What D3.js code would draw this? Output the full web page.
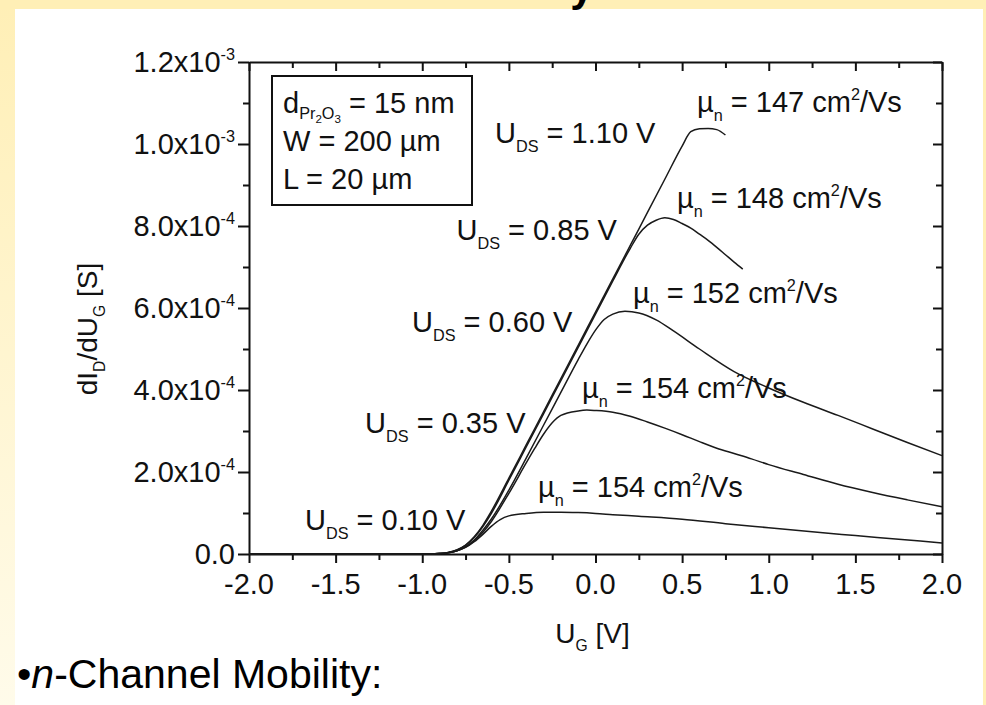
<!DOCTYPE html>
<html>
<head>
<meta charset="utf-8">
<script src="https://cdn.jsdelivr.net/npm/d3@7/dist/d3.min.js"></script>
<style>
  html, body { margin: 0; padding: 0; background: #fff; }
  svg { display: block; font-family: "Liberation Sans", Arial, Helvetica, sans-serif; }
</style>
</head>
<body>
<svg id="chart" width="986" height="705"></svg>
<script>
// Transconductance dI_D/dU_G (in 1e-4 S) versus gate voltage U_G (V), one curve per drain bias.
const ug010 = [-2.0,-1.0,-0.95,-0.9,-0.85,-0.8,-0.75,-0.7,-0.65,-0.6,-0.55,-0.5,-0.4,-0.3,-0.2,-0.1,0,0.1,0.25,0.5,0.75,1.0,1.25,1.5,1.75,2.0];
const gm010 = [0,0,0,0.01,0.03,0.08,0.16,0.3,0.48,0.68,0.84,0.93,0.99,1.02,1.02,1.01,0.99,0.96,0.92,0.85,0.74,0.64,0.54,0.45,0.36,0.27];

const ug035 = [-2.0,-1.0,-0.95,-0.9,-0.85,-0.8,-0.75,-0.7,-0.65,-0.6,-0.5,-0.4,-0.35,-0.3,-0.25,-0.2,-0.1,-0.05,0,0.1,0.2,0.3,0.4,0.5,0.6,0.7,0.8,0.9,1.0,1.2,1.4,1.6,1.8,2.0];
const gm035 = [0,0,0,0.01,0.03,0.08,0.17,0.32,0.53,0.8,1.48,2.22,2.58,2.92,3.2,3.38,3.49,3.51,3.5,3.46,3.36,3.22,3.07,2.91,2.74,2.58,2.45,2.32,2.18,1.94,1.7,1.5,1.32,1.15];

const ug060 = [-2.0,-1.0,-0.95,-0.9,-0.85,-0.8,-0.75,-0.7,-0.65,-0.6,-0.5,-0.4,-0.3,-0.2,-0.1,-0.05,0,0.05,0.1,0.17,0.25,0.35,0.45,0.6,0.8,1.0,1.2,1.4,1.6,1.8,2.0];
const gm060 = [0,0,0,0.01,0.03,0.08,0.18,0.34,0.58,0.86,1.56,2.34,3.14,3.94,4.74,5.12,5.46,5.72,5.85,5.92,5.88,5.71,5.44,5.0,4.45,4.05,3.7,3.38,3.05,2.72,2.4];

const ug085 = [-2.0,-1.0,-0.95,-0.9,-0.85,-0.8,-0.75,-0.7,-0.65,-0.6,-0.5,-0.4,-0.3,-0.2,-0.1,0,0.1,0.2,0.25,0.3,0.35,0.4,0.45,0.5,0.55,0.6,0.65,0.7,0.75,0.8,0.85];
const gm085 = [0,0,0,0.01,0.04,0.1,0.21,0.4,0.67,1.0,1.8,2.61,3.42,4.23,5.04,5.85,6.66,7.45,7.8,8.02,8.14,8.2,8.16,8.06,7.95,7.8,7.65,7.48,7.3,7.12,6.95];

const ug110 = [-2.0,-1.0,-0.95,-0.9,-0.85,-0.8,-0.75,-0.7,-0.65,-0.6,-0.5,-0.4,-0.3,-0.2,-0.1,0,0.1,0.2,0.3,0.4,0.5,0.55,0.6,0.65,0.7,0.75];
const gm110 = [0,0,0,0.01,0.04,0.1,0.22,0.42,0.7,1.05,1.85,2.66,3.47,4.28,5.09,5.9,6.71,7.52,8.33,9.14,9.95,10.3,10.37,10.38,10.35,10.22];

// Drain-bias labels, extracted mobilities and where each label sits (U_G, value in 1e-4 S)
const udsLabels = ["0.10 V", "0.35 V", "0.60 V", "0.85 V", "1.10 V"];
const mobilities = [154, 154, 152, 148, 147];
const udsLabelPos = [[-1.677, 0.585], [-1.33, 2.95], [-1.059, 5.41], [0.124, 7.66], [-0.58, 10.02]];
const udsLabelAnchor = ["start", "start", "start", "end", "start"];
const muLabelPos = [[-0.332, 1.39], [-0.078, 3.80], [0.216, 6.12], [0.47, 8.44], [0.586, 10.78]];

// Axis ticks
const xTicks = [-2.0, -1.5, -1.0, -0.5, 0.0, 0.5, 1.0, 1.5, 2.0];
const xTickLabels = ["-2.0", "-1.5", "-1.0", "-0.5", "0.0", "0.5", "1.0", "1.5", "2.0"];
const xMinor = [-1.75, -1.25, -0.75, -0.25, 0.25, 0.75, 1.25, 1.75];
const yTicks = [0, 2, 4, 6, 8, 10, 12];
const yTickMantissa = ["0.0", "2.0", "4.0", "6.0", "8.0", "1.0", "1.2"];
const yTickExponent = ["", "-4", "-4", "-4", "-4", "-3", "-3"];
const yMinor = [1, 3, 5, 7, 9, 11];

// Device parameters shown in the inset box
const deviceLines = [
  [{t: "d"}, {t: "Pr", sub: 1}, {t: "2", sub: 2}, {t: "O", sub: 1}, {t: "3", sub: 2}, {t: " = 15 nm"}],
  [{t: "W = 200 µm"}],
  [{t: "L = 20 µm"}]
];

const curves = [
  {ug: ug010, gm: gm010},
  {ug: ug035, gm: gm035},
  {ug: ug060, gm: gm060},
  {ug: ug085, gm: gm085},
  {ug: ug110, gm: gm110}
];

const W = 986, H = 705;
const svg = d3.select("#chart");

// ---- slide background ----
const defs = svg.append("defs");
const grad = defs.append("linearGradient").attr("id", "sideFade").attr("x1", 0).attr("y1", 0).attr("x2", 0).attr("y2", 1);
grad.append("stop").attr("offset", "0%").attr("stop-color", "#ffefb6");
grad.append("stop").attr("offset", "100%").attr("stop-color", "#fffbea");
svg.append("rect").attr("x", 0).attr("y", 0).attr("width", W).attr("height", H).attr("fill", "#fff");
svg.append("rect").attr("x", 0).attr("y", 0).attr("width", 15).attr("height", H).attr("fill", "url(#sideFade)");
svg.append("rect").attr("x", 0).attr("y", 0).attr("width", W).attr("height", 9).attr("fill", "#ffefb6");
svg.append("rect").attr("x", 983).attr("y", 0).attr("width", 3).attr("height", H).attr("fill", "#ffefb6");

// descender of the slide heading above the figure
svg.append("text").attr("x", 582).attr("y", 1).attr("font-size", 42).attr("font-weight", "bold")
  .attr("text-anchor", "middle").attr("fill", "#000").text("y");

// ---- plot frame ----
const m = {left: 249, right: 942, top: 62, bottom: 554};
const x = d3.scaleLinear().domain([-2, 2]).range([m.left, m.right]);
const y = d3.scaleLinear().domain([0, 12]).range([m.bottom, m.top]);

const axisColor = "#111";
function styleAxis(g) {
  g.selectAll("path.domain").attr("stroke", axisColor).attr("stroke-width", 2);
  g.selectAll(".tick line").attr("stroke", axisColor).attr("stroke-width", 2);
  g.selectAll(".tick text").remove();
}

// bottom axis: outward ticks
const gx = svg.append("g").attr("transform", `translate(0,${m.bottom})`)
  .call(d3.axisBottom(x).tickValues(xTicks).tickSize(9).tickSizeOuter(0).tickFormat(""));
styleAxis(gx);
const gxm = svg.append("g").attr("transform", `translate(0,${m.bottom})`)
  .call(d3.axisBottom(x).tickValues(xMinor).tickSize(6).tickSizeOuter(0).tickFormat(""));
styleAxis(gxm); gxm.select("path.domain").remove();

// top axis: inward ticks
const gt = svg.append("g").attr("transform", `translate(0,${m.top})`)
  .call(d3.axisTop(x).tickValues(xTicks).tickSize(-9).tickSizeOuter(0).tickFormat(""));
styleAxis(gt);
const gtm = svg.append("g").attr("transform", `translate(0,${m.top})`)
  .call(d3.axisTop(x).tickValues(xMinor).tickSize(-6).tickSizeOuter(0).tickFormat(""));
styleAxis(gtm); gtm.select("path.domain").remove();

// left axis: outward ticks
const gy = svg.append("g").attr("transform", `translate(${m.left},0)`)
  .call(d3.axisLeft(y).tickValues(yTicks).tickSize(11).tickSizeOuter(0).tickFormat(""));
styleAxis(gy);
const gym = svg.append("g").attr("transform", `translate(${m.left},0)`)
  .call(d3.axisLeft(y).tickValues(yMinor).tickSize(6).tickSizeOuter(0).tickFormat(""));
styleAxis(gym); gym.select("path.domain").remove();

// right axis: inward ticks
const gr = svg.append("g").attr("transform", `translate(${m.right},0)`)
  .call(d3.axisRight(y).tickValues(yTicks).tickSize(-9).tickSizeOuter(0).tickFormat(""));
styleAxis(gr);
const grm = svg.append("g").attr("transform", `translate(${m.right},0)`)
  .call(d3.axisRight(y).tickValues(yMinor).tickSize(-6).tickSizeOuter(0).tickFormat(""));
styleAxis(grm); grm.select("path.domain").remove();

// ---- rich text helper (sub/superscripts via tspans) ----
function richText(parent, parts, px, py, size, anchor, subDrop) {
  const drop = subDrop || 0.30;
  const t = parent.append("text").attr("x", px).attr("y", py)
    .attr("font-size", size).attr("fill", "#111").attr("text-anchor", anchor || "start");
  let shift = 0;
  parts.forEach(p => {
    let target = 0, fs = size;
    if (p.sub === 1) { target = size * drop; fs = size * 0.56; }
    else if (p.sub === 2) { target = size * (drop + 0.13); fs = size * 0.40; }
    else if (p.sup) { target = -size * 0.42; fs = size * 0.56; }
    t.append("tspan").attr("dy", target - shift).attr("font-size", fs).text(p.t);
    shift = target;
  });
  return t;
}

// tick labels
const tickFs = 29;
xTicks.forEach((v, i) => {
  svg.append("text").attr("x", x(v)).attr("y", m.bottom + 40).attr("text-anchor", "middle")
    .attr("font-size", tickFs).attr("fill", "#111").text(xTickLabels[i]);
});
yTicks.forEach((v, i) => {
  const parts = yTickExponent[i]
    ? [{t: yTickMantissa[i] + "x10"}, {t: yTickExponent[i], sup: true}]
    : [{t: yTickMantissa[i]}];
  richText(svg, parts, m.left - 14, y(v) + 10, tickFs, "end");
});

// axis titles
const titleFs = 28;
richText(svg, [{t: "U"}, {t: "G", sub: 1}, {t: " [V]"}], (m.left + m.right) / 2 - 3, 643, titleFs, "middle");
const yTitle = svg.append("g").attr("transform", `translate(97,${(m.top + m.bottom) / 2 + 21}) rotate(-90)`);
richText(yTitle, [{t: "dI"}, {t: "D", sub: 1}, {t: "/dU"}, {t: "G", sub: 1}, {t: " [S]"}], 0, 0, titleFs, "middle");

// ---- curves ----
const line = d3.line().x(d => x(d[0])).y(d => y(d[1])).curve(d3.curveMonotoneX);
const plot = svg.append("g");
curves.forEach(c => {
  const pts = c.ug.map((u, i) => [u, c.gm[i]]);
  plot.append("path").attr("d", line(pts)).attr("fill", "none")
    .attr("stroke", "#1a1a1a").attr("stroke-width", 1.5).attr("stroke-linejoin", "round");
});

// ---- curve annotations ----
const annFs = 29;
udsLabels.forEach((lab, i) => {
  const [u, v] = udsLabelPos[i];
  richText(svg, [{t: "U"}, {t: "DS", sub: 1}, {t: " = " + lab}], x(u), y(v), annFs, udsLabelAnchor[i]);
  const [mu, mv] = muLabelPos[i];
  richText(svg, [{t: "µ"}, {t: "n", sub: 1}, {t: " = " + mobilities[i] + " cm"}, {t: "2", sup: true}, {t: "/Vs"}], x(mu), y(mv), annFs, "start");
});

// ---- inset box with device parameters ----
svg.append("rect").attr("x", 272).attr("y", 76).attr("width", 200).attr("height", 129)
  .attr("fill", "#fff").attr("stroke", axisColor).attr("stroke-width", 2);
deviceLines.forEach((parts, i) => {
  richText(svg, parts, 283, 113 + i * 38, annFs, "start", 0.22);
});

// ---- slide bullet text ----
const bullet = svg.append("text").attr("x", 17).attr("y", 688).attr("font-size", 41).attr("fill", "#000");
bullet.append("tspan").text("\u2022");
bullet.append("tspan").attr("font-style", "italic").text("n");
bullet.append("tspan").text("-Channel Mobility:");
</script>
</body>
</html>
